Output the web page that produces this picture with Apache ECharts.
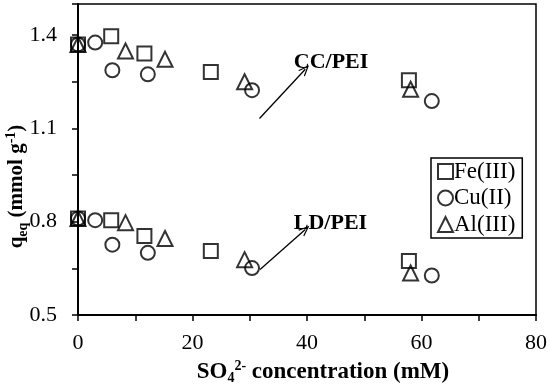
<!DOCTYPE html>
<html>
<head>
<meta charset="utf-8">
<script src="https://cdn.jsdelivr.net/npm/echarts@6/dist/echarts.min.js"></script>
<style>html,body{margin:0;padding:0;background:#fff}#c{width:550px;height:387px}</style>
</head>
<body>
<div id="c"></div>
<script>
// SO4(2-) concentration (mM) per metal
const xFe = [0, 5.8, 11.6, 23.2, 57.8];
const xCu = [0, 3.0, 6.0, 12.2, 30.4, 61.8];
const xAl = [0, 8.3, 15.2, 29.1, 58.1];
// q_eq (mmol/g), CC/PEI
const ccFe = [1.37, 1.396, 1.341, 1.281, 1.255];
const ccCu = [1.37, 1.376, 1.287, 1.274, 1.223, 1.188];
const ccAl = [1.37, 1.349, 1.322, 1.250, 1.226];
// q_eq (mmol/g), LD/PEI
const ldFe = [0.81, 0.805, 0.754, 0.706, 0.674];
const ldCu = [0.81, 0.805, 0.726, 0.700, 0.651, 0.627];
const ldAl = [0.81, 0.797, 0.746, 0.678, 0.635];
// axis tick labels
const xTickLabels = [0, 20, 40, 60, 80];
const yTickLabels = [0.5, 0.8, 1.1, 1.4];
// annotations (data space)
const annoText = ['CC/PEI', 'LD/PEI'];
const annoPos = [[44.2, 1.312], [44.1, 0.796]];
const arrowFrom = [[31.7, 1.132], [31.8, 0.646]];
const arrowTo = [[39.7, 1.29], [39.7, 0.775]];

const FONT = '"Liberation Serif", "Times New Roman", serif';
const zip = (xs, ys) => xs.map((x, i) => [x, ys[i]]);
const mk = (name, symbol, xs, ys) => ({
  name, type: 'scatter', symbol, symbolSize: symbol === 'triangle' ? 15 : 14,
  data: zip(xs, ys),
  itemStyle: { color: 'rgba(255,255,255,0)', borderColor: '#000', borderWidth: 2 },
  emphasis: { disabled: true }, z: 3
});
const chevron = 'path://M5,0 L10,10 L8.6,10 L5,2.8 L1.4,10 L0,10 Z';

const series = [
  mk('Fe(III)', 'rect', xFe, ccFe), mk('Fe(III)', 'rect', xFe, ldFe),
  mk('Cu(II)', 'circle', xCu, ccCu), mk('Cu(II)', 'circle', xCu, ldCu),
  mk('Al(III)', 'triangle', xAl, ccAl), mk('Al(III)', 'triangle', xAl, ldAl),
  {
    type: 'scatter', data: [], silent: true,
    markLine: {
      silent: true, symbol: ['none', chevron], symbolSize: [9, 11],
      lineStyle: { color: '#000', width: 1.3, type: 'solid' },
      label: { show: false },
      data: arrowFrom.map((f, i) => [{ coord: f }, { coord: arrowTo[i] }])
    },
    markPoint: {
      silent: true, symbol: 'circle', symbolSize: 0,
      label: { show: true, position: 'inside', formatter: '{b}', fontFamily: FONT, fontWeight: 'bold', fontSize: 22, color: '#000' },
      data: annoText.map((t, i) => ({ name: t, coord: annoPos[i] }))
    }
  }
];

const rich = (size) => ({
  b: { fontFamily: FONT, fontWeight: 'bold', fontSize: size, color: '#000', lineHeight: 26, verticalAlign: 'middle' },
  sub: { fontFamily: FONT, fontWeight: 'bold', fontSize: 14, color: '#000', verticalAlign: 'bottom', lineHeight: 26, padding: [8, 0, 0, 0] },
  sup: { fontFamily: FONT, fontWeight: 'bold', fontSize: 14, color: '#000', verticalAlign: 'top', lineHeight: 26, padding: [0, 0, 8, 0] }
});

const near = (v, arr) => arr.some(a => Math.abs(a - v) < 1e-6);
const chart = echarts.init(document.getElementById('c'));
chart.setOption({
  animation: false,
  backgroundColor: '#fff',
  grid: { left: 78, right: 14, top: 4, bottom: 72, show: true, borderColor: '#000', borderWidth: 1.5,
    containLabel: false, outerBoundsMode: 'none' },
  legend: {
    orient: 'vertical', left: 431, top: 158,
    data: ['Fe(III)', 'Cu(II)', 'Al(III)'],
    itemWidth: 15, itemHeight: 15, itemGap: 3.5,
    padding: [2, 7, 2, 6],
    borderColor: '#000', borderWidth: 1.5,
    textStyle: { fontFamily: FONT, fontSize: 23, color: '#000', padding: [0, 0, 0, -4] }
  },
  xAxis: {
    type: 'value', min: 0, max: 80, interval: 10,
    splitLine: { show: false },
    axisLine: { onZero: false, lineStyle: { color: '#000', width: 2 } },
    axisTick: { inside: false, length: 6, lineStyle: { color: '#000', width: 1.5 } },
    axisLabel: { margin: 17, fontFamily: FONT, fontSize: 22, color: '#000',
      formatter: v => near(v, xTickLabels) ? String(v) : '' },
    name: '{b|SO}{sub|4}{sup|2-}{b| concentration (mM)}',
    nameLocation: 'middle', nameGap: 43,
    nameTextStyle: { padding: [0, 0, 0, 32], rich: rich(23) }
  },
  yAxis: {
    type: 'value', min: 0.5, max: 1.5, interval: 0.15,
    splitLine: { show: false },
    axisLine: { onZero: false, lineStyle: { color: '#000', width: 2 } },
    axisTick: { inside: false, length: 6, lineStyle: { color: '#000', width: 1.5 } },
    axisLabel: { margin: 21, fontFamily: FONT, fontSize: 22, color: '#000',
      formatter: v => near(v, yTickLabels) ? v.toFixed(1) : '' },
    name: '{b|q}{sub|eq}{b| (mmol g}{sup|-1}{b|)}',
    nameLocation: 'middle', nameGap: 48, nameRotate: 90, nameMoveOverlap: false,
    nameTextStyle: { padding: [0, 54, 0, 0], rich: rich(21) }
  },
  series
});
</script>
</body>
</html>
